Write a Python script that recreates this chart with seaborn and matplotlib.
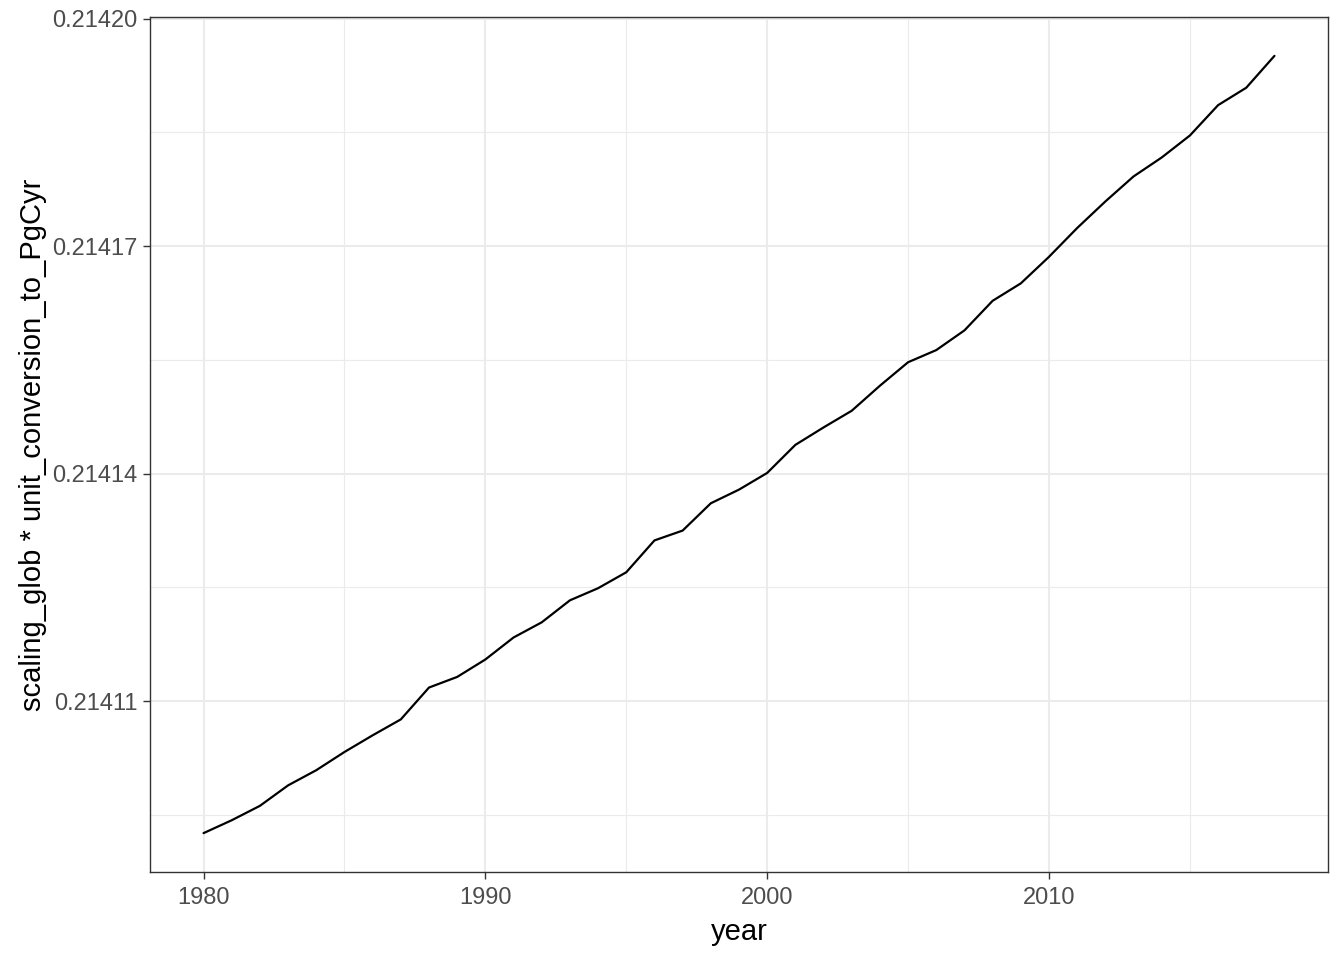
import matplotlib
matplotlib.use("Agg")
import matplotlib.pyplot as plt
import seaborn as sns
import pandas as pd
from matplotlib.ticker import FixedLocator, FormatStrFormatter

years = list(range(1980, 2019))
values = [
    0.2140926, 0.2140943, 0.2140962, 0.2140989, 0.2141009, 0.2141033, 0.2141055,
    0.2141076, 0.2141118, 0.2141132, 0.2141155, 0.2141184, 0.2141204, 0.2141233,
    0.2141249, 0.2141270, 0.2141312, 0.2141325, 0.2141361, 0.2141379, 0.2141401,
    0.2141438, 0.2141461, 0.2141483, 0.2141516, 0.2141547, 0.2141563, 0.2141589,
    0.2141628, 0.2141651, 0.2141686, 0.2141724, 0.2141759, 0.2141792, 0.2141817,
    0.2141846, 0.2141886, 0.2141909, 0.2141951,
]
x_ticks = [1980, 1990, 2000, 2010]
y_ticks = [0.21411, 0.21414, 0.21417, 0.21420]

df = pd.DataFrame({"year": years, "value": values})

sns.set_theme(style="white")
plt.rcParams['font.family'] = ['Liberation Sans', 'DejaVu Sans']

fig = plt.figure(figsize=(13.44, 9.6), dpi=100)
ax = fig.add_axes([150 / 1344, 1 - 872 / 960, (1328 - 150) / 1344, (872 - 17) / 960])

sns.lineplot(data=df, x="year", y="value", ax=ax, color="black", linewidth=1.6)

ax.margins(x=0.05, y=0.05)

# grid like theme_bw
ax.xaxis.set_major_locator(FixedLocator(x_ticks))
ax.xaxis.set_minor_locator(FixedLocator([1985, 1995, 2005, 2015]))
ax.yaxis.set_major_locator(FixedLocator(y_ticks))
ax.yaxis.set_minor_locator(FixedLocator([0.214095, 0.214125, 0.214155, 0.214185]))
ax.yaxis.set_major_formatter(FormatStrFormatter('%.5f'))
ax.grid(which="major", color="#EBEBEB", linewidth=1.5)
ax.grid(which="minor", color="#EBEBEB", linewidth=0.8)
ax.set_axisbelow(True)

for s in ax.spines.values():
    s.set_color("#333333")
    s.set_linewidth(1.0)

ax.tick_params(axis="both", which="major", length=5, width=1, color="#333333",
               labelsize=17, labelcolor="#4D4D4D", bottom=True, left=True)
ax.tick_params(axis="x", which="major", pad=6)
ax.tick_params(axis="y", which="major", pad=4)
ax.tick_params(axis="both", which="minor", length=0)

ax.set_xlabel("year", fontsize=21, color="black", labelpad=6)
ax.set_ylabel("scaling_glob * unit_conversion_to_PgCyr", fontsize=21, color="black", labelpad=4)

fig.savefig("out.png", dpi=100)
